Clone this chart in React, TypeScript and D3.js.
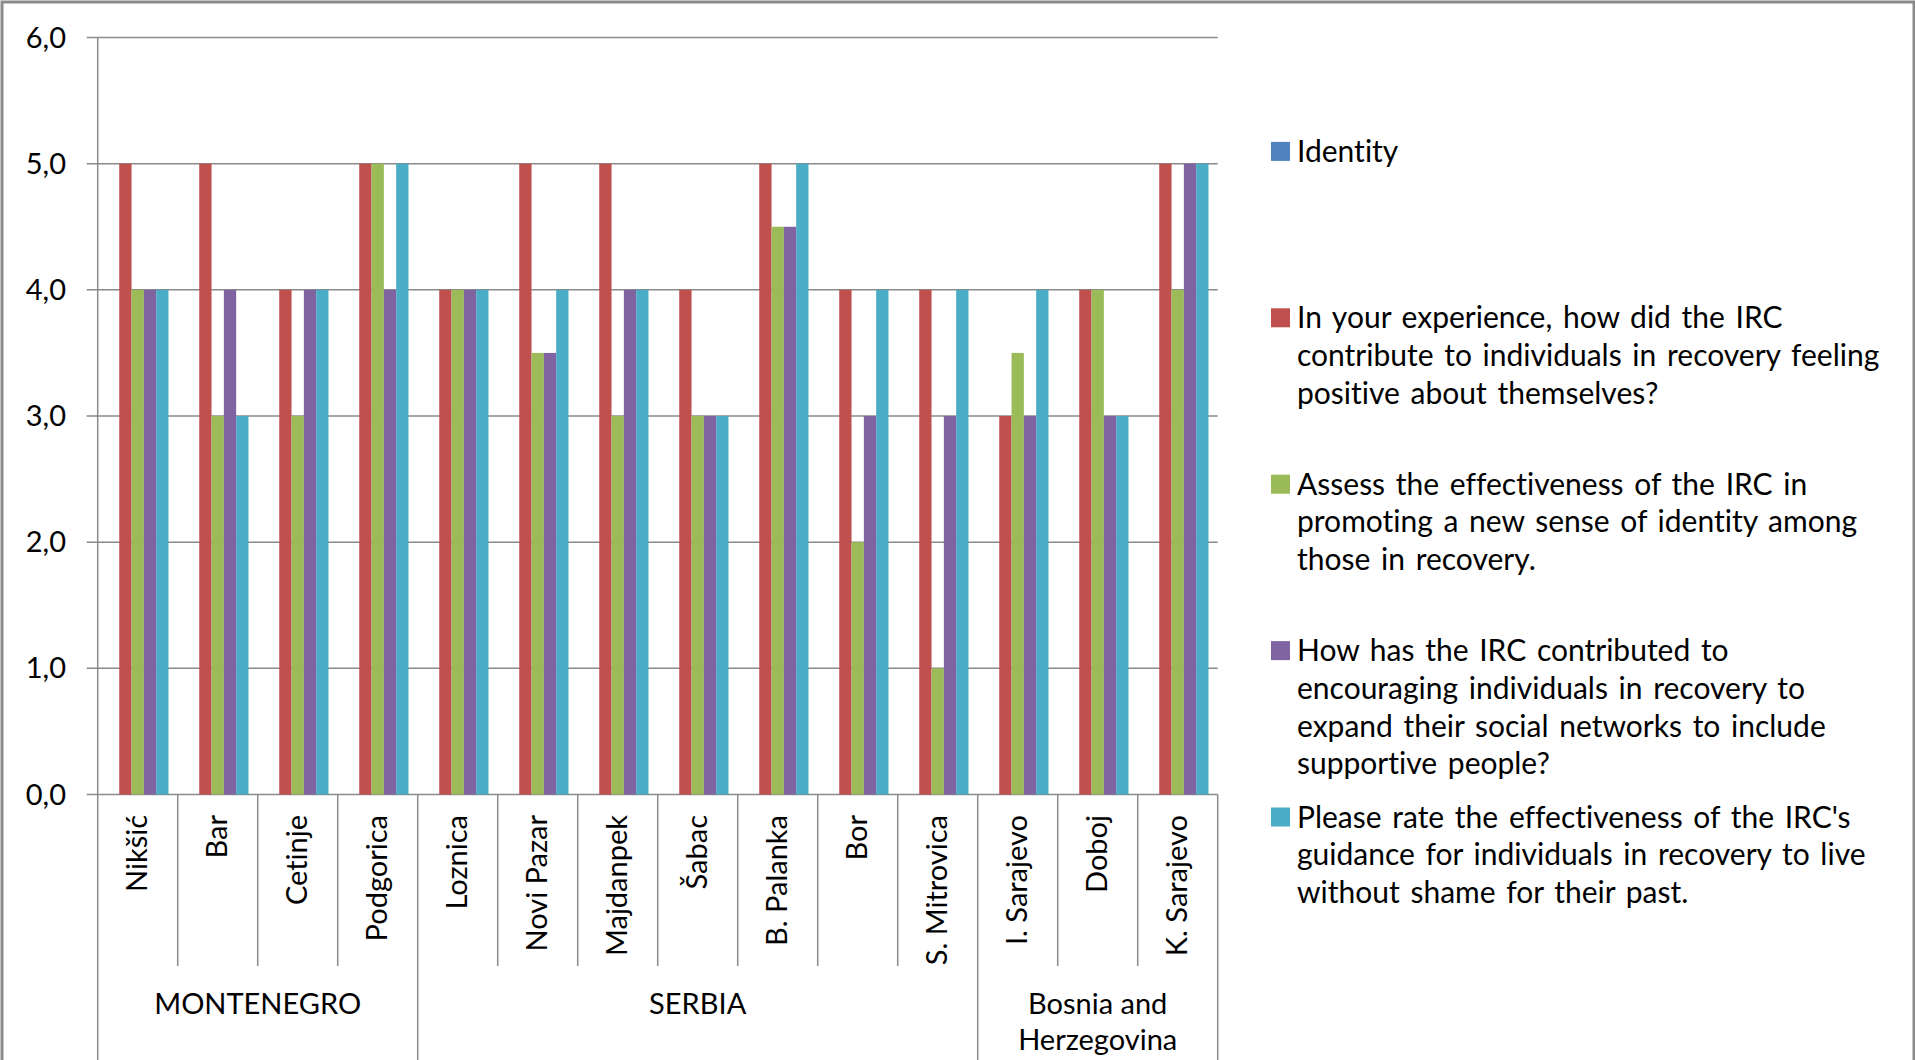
import React from "react";
import * as d3 from "d3";

const categories = [
  "Nikšić", "Bar", "Cetinje", "Podgorica", "Loznica", "Novi Pazar", "Majdanpek",
  "Šabac", "B. Palanka", "Bor", "S. Mitrovica", "I. Sarajevo", "Doboj", "K. Sarajevo",
];
const groupNames = [["MONTENEGRO"], ["SERBIA"], ["Bosnia and", "Herzegovina"]];
const groupSizes = [4, 7, 3];

const identity: (number | null)[] = categories.map(() => null);
const positiveSelf = [5, 5, 4, 5, 4, 5, 5, 4, 5, 4, 4, 3, 4, 5];
const newIdentity = [4, 3, 3, 5, 4, 3.5, 3, 3, 4.5, 2, 1, 3.5, 4, 4];
const socialNetworks = [4, 4, 4, 4, 4, 3.5, 4, 3, 4.5, 3, 3, 3, 3, 5];
const withoutShame = [4, 3, 4, 5, 4, 4, 4, 3, 5, 4, 4, 4, 3, 5];

const seriesValues = [identity, positiveSelf, newIdentity, socialNetworks, withoutShame];
const seriesColors = ["#4F81BD", "#C0504D", "#9BBB59", "#8064A2", "#4BACC6"];
const legendLines = [
  ["Identity"],
  ["In your experience, how did the IRC", "contribute to individuals in recovery feeling", "positive about themselves?"],
  ["Assess the effectiveness of the IRC in", "promoting a new sense of identity among", "those in recovery."],
  ["How has the IRC contributed to", "encouraging individuals in recovery to", "expand their social networks to include", "supportive people?"],
  ["Please rate the effectiveness of the IRC's", "guidance for individuals in recovery to live", "without shame for their past."],
];
const yTicks = [0, 1, 2, 3, 4, 5, 6];

const W = 1915;
const H = 1060;
const FONT = "Lato, 'Open Sans', sans-serif";
const FS = 29;
const LFS = 30;
const GRID = "#8a8a8a";

export default function App() {
  const left = 97.7;
  const right = 1217.7;
  const y = d3.scaleLinear().domain([0, 6]).range([794.5, 37.5]);
  const x = d3.scaleBand<string>().domain(categories).range([left, right]).padding(0);
  const bw = x.bandwidth();
  const w = bw / 6.5;
  const fmt = (v: number) => d3.format(".1f")(v).replace(".", ",");

  const bounds: number[] = [];
  let acc = 0;
  groupSizes.forEach((n) => {
    bounds.push(acc);
    acc += n;
  });
  bounds.push(acc);

  const legendX = 1271;
  const legendTextX = 1297;
  const legendTop = 151.4;
  const entryStep = 166.4;
  const lineStep = 37.7;

  return (
    <svg
      width={W}
      height={H}
      style={{
        position: "absolute",
        left: 0,
        top: 0,
        background: "#fff",
        fontFamily: FONT,
        fontVariantLigatures: "none",
      }}
    >
      <rect x={0} y={0} width={W} height={H} fill="#fff" />
      {yTicks.map((t) => (
        <g key={"g" + t}>
          <line x1={86.7} x2={right} y1={y(t)} y2={y(t)} stroke={GRID} strokeWidth={1.5} />
          <text x={66} y={y(t)} dy="0.35em" textAnchor="end" fontSize={FS} fill="#000">
            {fmt(t)}
          </text>
        </g>
      ))}
      {seriesValues.map((vals, si) =>
        vals.map((v, ci) =>
          v == null ? null : (
            <rect
              key={`b${si}-${ci}`}
              x={(x(categories[ci]) as number) + 0.75 * w + si * w}
              y={y(v)}
              width={w}
              height={y(0) - y(v)}
              fill={seriesColors[si]}
            />
          )
        )
      )}
      <line x1={left} x2={left} y1={y(6)} y2={H} stroke={GRID} strokeWidth={1.5} />
      {categories.map((c, i) => {
        if (i === 0) return null;
        const isGroup = bounds.includes(i);
        const xx = x(c) as number;
        return (
          <line key={"s" + i} x1={xx} x2={xx} y1={y(0)} y2={isGroup ? H : 966} stroke={GRID} strokeWidth={1.5} />
        );
      })}
      <line x1={right} x2={right} y1={y(0)} y2={H} stroke={GRID} strokeWidth={1.5} />
      {categories.map((c) => {
        const cx = (x(c) as number) + bw / 2;
        return (
          <text
            key={"l" + c}
            transform={`translate(${cx},815) rotate(-90)`}
            textAnchor="end"
            dy="0.33em"
            fontSize={FS}
            fill="#000"
          >
            {c}
          </text>
        );
      })}
      {groupNames.map((lines, gi) => {
        const x0 = left + bounds[gi] * bw;
        const x1 = left + bounds[gi + 1] * bw;
        return (
          <text key={"gl" + gi} x={(x0 + x1) / 2} y={1014} textAnchor="middle" fontSize={FS} fill="#000">
            {lines.map((ln, li) => (
              <tspan key={li} x={(x0 + x1) / 2} y={1014 + li * 36}>
                {ln}
              </tspan>
            ))}
          </text>
        );
      })}
      {legendLines.map((lines, si) => {
        const cy = legendTop + si * entryStep;
        return (
          <g key={"lg" + si}>
            <rect x={legendX} y={cy - 9.5} width={19} height={19} fill={seriesColors[si]} />
            {lines.map((ln, li) => (
              <text
                key={li}
                x={legendTextX}
                y={cy + li * lineStep}
                dy="0.35em"
                fontSize={LFS}
                wordSpacing={3}
                fill="#000"
              >
                {ln}
              </text>
            ))}
          </g>
        );
      })}
      <rect x={2} y={2} width={W - 3} height={H + 20} fill="none" stroke="#8a8a8a" strokeWidth={3} />
    </svg>
  );
}
